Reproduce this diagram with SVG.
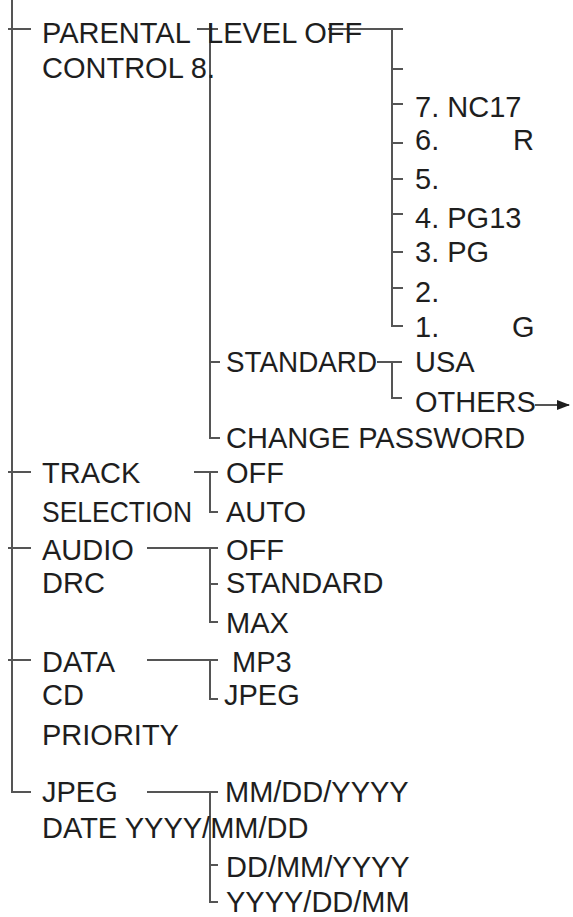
<svg xmlns="http://www.w3.org/2000/svg" width="573" height="917" viewBox="0 0 573 917">
<defs>
<style>
text{font-family:"Liberation Sans",Arial,Helvetica,sans-serif;font-size:29px;fill:#1e1e1e}
.c{fill:none;stroke:#555;stroke-width:2}
</style>
<marker id="ah" markerWidth="13" markerHeight="10" refX="12" refY="5" orient="auto" markerUnits="userSpaceOnUse">
<path d="M0 0L13 5L0 10Z" fill="#1e1e1e"/>
</marker>
</defs>
<rect width="573" height="917" fill="#fff"/>
<g id="connectors">
<path class="c" d="M12 0V792H31"/>
<path class="c" d="M8 29H31M8 472H31M8 548H31M8 660H31"/>
<path class="c" d="M197 29H218M210 23V438H220M210 362H220"/>
<path class="c" d="M328 29H403M392 29V326H403M392 69H403M392 104H403M392 143H403M392 179H403M392 214H403M392 252H403M392 288H403"/>
<path class="c" d="M377 362H402M392 362V398H402"/>
<path class="c" d="M535 405H569" stroke="#1e1e1e" stroke-width="2.2" marker-end="url(#ah)"/>
<path class="c" d="M194 472H218M210 472V512H218"/>
<path class="c" d="M147 548H218M210 548V622H218M210 584H218"/>
<path class="c" d="M147 660H218M210 660V699H218"/>
<path class="c" d="M147 792H218M210 792V902H218M210 865H218"/>
</g>
<g id="parental-control"><text x="42" y="43">PARENTAL</text><text x="42" y="78">CONTROL 8.</text></g>
<g id="level"><text x="207" y="43">LEVEL OFF</text></g>
<g id="level-7"><text x="415" y="117">7. NC17</text></g>
<g id="level-6"><text x="415" y="150">6.</text><text x="513" y="150">R</text></g>
<g id="level-5"><text x="415" y="189">5.</text></g>
<g id="level-4"><text x="415" y="228">4. PG13</text></g>
<g id="level-3"><text x="415" y="262">3. PG</text></g>
<g id="level-2"><text x="415" y="302">2.</text></g>
<g id="level-1"><text x="415" y="337">1.</text><text x="512" y="337">G</text></g>
<g id="standard"><text x="226" y="372" textLength="151" lengthAdjust="spacingAndGlyphs">STANDARD</text></g>
<g id="usa"><text x="415" y="372">USA</text></g>
<g id="others"><text x="415" y="412">OTHERS</text></g>
<g id="change-password"><text x="226" y="448">CHANGE PASSWORD</text></g>
<g id="track-selection"><text x="42" y="483">TRACK</text><text x="42" y="522" textLength="150" lengthAdjust="spacingAndGlyphs">SELECTION</text></g>
<g id="track-off"><text x="226" y="483">OFF</text></g>
<g id="track-auto"><text x="226" y="522">AUTO</text></g>
<g id="audio-drc"><text x="42" y="560">AUDIO</text><text x="42" y="593">DRC</text></g>
<g id="drc-off"><text x="226" y="560">OFF</text></g>
<g id="drc-standard"><text x="226" y="593">STANDARD</text></g>
<g id="drc-max"><text x="226" y="633">MAX</text></g>
<g id="data-cd-priority"><text x="42" y="672">DATA</text><text x="42" y="705">CD</text><text x="42" y="745">PRIORITY</text></g>
<g id="mp3"><text x="232" y="672">MP3</text></g>
<g id="jpeg-priority"><text x="224" y="705">JPEG</text></g>
<g id="jpeg-date"><text x="42" y="802">JPEG</text><text x="42" y="838">DATE YYYY/MM/DD</text></g>
<g id="mmddyyyy"><text x="225" y="802">MM/DD/YYYY</text></g>
<g id="ddmmyyyy"><text x="226" y="877">DD/MM/YYYY</text></g>
<g id="yyyyddmm"><text x="226" y="912">YYYY/DD/MM</text></g>
</svg>
